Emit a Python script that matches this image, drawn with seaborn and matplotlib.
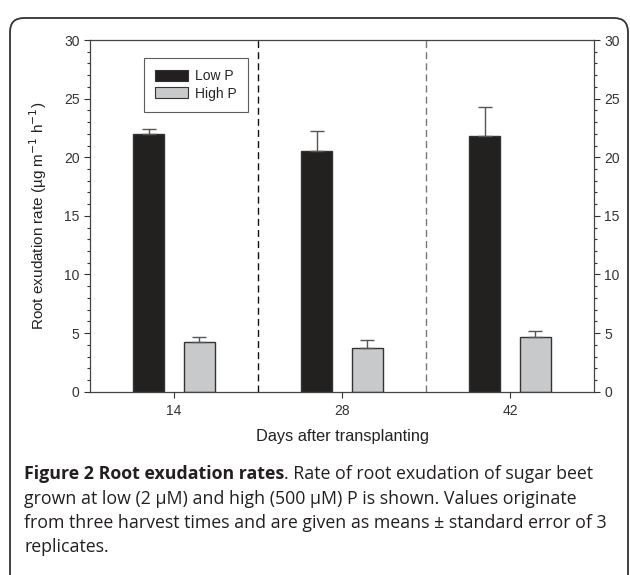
import pandas as pd
import matplotlib.pyplot as plt
import seaborn as sns
from matplotlib.patches import Patch, FancyBboxPatch
from matplotlib.ticker import MultipleLocator

# values
days = ['14', '28', '42']
low_p = [21.95, 20.55, 21.8]
low_se = [0.5, 1.7, 2.45]
high_p = [4.2, 3.75, 4.65]
high_se = [0.5, 0.7, 0.5]
treatments = ['Low P', 'High P']
colors = ['#231f20', '#c8c9cb']

df = pd.DataFrame({
    'day': days * 2,
    'rate': low_p + high_p,
    'treatment': [treatments[0]] * 3 + [treatments[1]] * 3,
})

sns.set_style('ticks')
plt.rcParams['font.family'] = ['Liberation Sans', 'DejaVu Sans']

fig = plt.figure(figsize=(6.3, 5.75), dpi=100)
ax = fig.add_axes([0.1429, 0.3188, 0.8, 0.6116])

sns.barplot(data=df, x='day', y='rate', hue='treatment', palette=colors,
            width=0.6, gap=0.38, edgecolor='#333333', linewidth=1,
            errorbar=None, legend=False, ax=ax)

# one-sided error bars (upwards only)
for cont, se in zip(ax.containers, [low_se, high_se]):
    xs = [p.get_x() + p.get_width() / 2 for p in cont]
    ys = [p.get_height() for p in cont]
    ax.errorbar(xs, ys, yerr=[[0] * len(se), se], fmt='none', ecolor='#555555',
                elinewidth=1, capsize=5, capthick=1)

# dashed separators between harvests
ax.axvline(0.5, color='#111111', lw=1, ls=(0, (5, 3)))
ax.axvline(1.5, color='#777777', lw=1, ls=(0, (5, 3)))

ax.set_xlim(-0.5, 2.5)
ax.set_ylim(0, 30)
ax.yaxis.set_major_locator(MultipleLocator(5))
ax.yaxis.set_minor_locator(MultipleLocator(1))
ax.tick_params(axis='y', which='both', left=True, right=True, labelright=True,
               direction='out', labelsize=10, colors='#333333')
ax.tick_params(axis='y', which='major', length=4, width=0.8)
ax.tick_params(axis='y', which='minor', length=2.5, width=0.8)
ax.tick_params(axis='x', length=4, width=0.8, labelsize=10, colors='#333333', pad=5)
for s in ax.spines.values():
    s.set_color('#444444')
    s.set_linewidth(0.9)
    s.set_visible(True)

ax.set_xlabel('Days after transplanting', fontsize=11.8, color='#222222')
ax.set_ylabel('Root exudation rate (µg m$^{-1}$ h$^{-1}$)', fontsize=11, color='#222222')
ax.xaxis.set_label_coords(0.5, -0.107)
ax.yaxis.set_label_coords(-0.081, 0.5)

handles = [Patch(facecolor=c, edgecolor='#333333', linewidth=0.8) for c in colors]
leg = ax.legend(handles, treatments, loc='upper left', bbox_to_anchor=(0.107, 0.949),
                borderaxespad=0, fontsize=10, frameon=True, fancybox=False,
                handlelength=2.4, handleheight=0.8, handletextpad=0.5,
                borderpad=0.8, labelspacing=0.25)
leg.get_frame().set_edgecolor('#333333')
leg.get_frame().set_linewidth(0.8)

# caption below the plot
cap_font = ['Open Sans', 'DejaVu Sans']
cap_size = 12.8
cap_x = 24 / 630
renderer = fig.canvas.get_renderer()
t = fig.text(cap_x, 1 - 474 / 575, 'Figure 2 Root exudation rates', fontsize=cap_size,
             fontweight='bold', family=cap_font, va='center', color='#231f20')
bb = t.get_window_extent(renderer)
fig.text(bb.x1 / 630, 1 - 474 / 575, '. Rate of root exudation of sugar beet',
         fontsize=cap_size, family=cap_font, va='center', color='#231f20')
lines = ['grown at low (2 µM) and high (500 µM) P is shown. Values originate',
         'from three harvest times and are given as means ± standard error of 3',
         'replicates.']
for i, line in enumerate(lines):
    fig.text(cap_x, 1 - (498.5 + 24 * i) / 575, line, fontsize=cap_size,
             family=cap_font, va='center', color='#231f20')

# rounded frame around the figure
frame = FancyBboxPatch((10, -30), 618, 575 - 18 + 30, boxstyle='round,pad=0,rounding_size=14',
                       transform=None, facecolor='none', edgecolor='#333333', linewidth=1.3)
fig.add_artist(frame)

fig.savefig('out.png', dpi=100)
